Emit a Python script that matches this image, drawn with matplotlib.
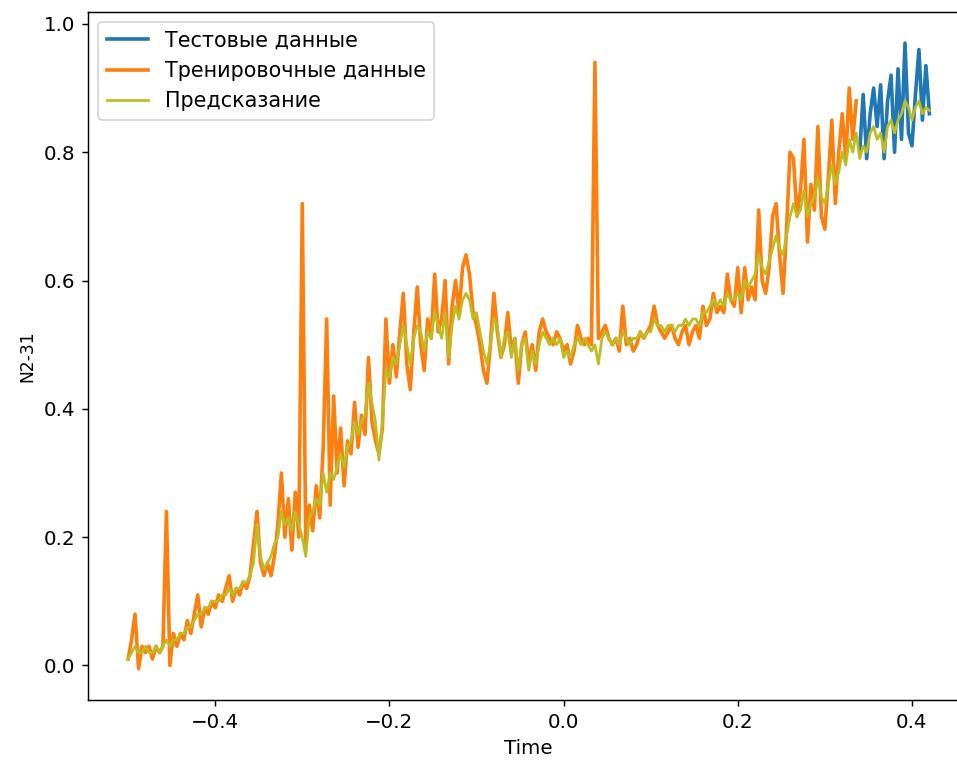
#!/bin/env python
"""Plot N2-31 series: training data, test data and model prediction
"""
import sys
import numpy as np
import matplotlib as mpl
import matplotlib.pyplot as plt

# constants

T_START = -0.5
T_STEP = 0.004

# training data, t = -0.500 ... 0.336
TRAIN_VALUES = [
    0.01, 0.04, 0.08, -0.005, 0.03, 0.02, 0.03, 0.01, 0.03, 0.02,
    0.03, 0.24, 0.00, 0.05, 0.03, 0.05, 0.04, 0.07, 0.05, 0.08,
    0.11, 0.06, 0.09, 0.08, 0.10, 0.09, 0.11, 0.10, 0.12, 0.14,
    0.10, 0.12, 0.11, 0.13, 0.12, 0.14, 0.19, 0.24, 0.16, 0.14,
    0.16, 0.14, 0.17, 0.22, 0.30, 0.20, 0.26, 0.18, 0.27, 0.20,
    0.72, 0.19, 0.25, 0.21, 0.28, 0.23, 0.34, 0.54, 0.25, 0.42,
    0.30, 0.37, 0.28, 0.35, 0.33, 0.41, 0.34, 0.39, 0.36, 0.48,
    0.38, 0.35, 0.33, 0.37, 0.54, 0.44, 0.50, 0.45, 0.52, 0.58,
    0.47, 0.43, 0.52, 0.59, 0.50, 0.46, 0.54, 0.51, 0.61, 0.52,
    0.54, 0.60, 0.47, 0.56, 0.60, 0.55, 0.62, 0.64, 0.61, 0.55,
    0.53, 0.50, 0.46, 0.44, 0.50, 0.58, 0.52, 0.48, 0.50, 0.55,
    0.49, 0.51, 0.44, 0.50, 0.52, 0.47, 0.50, 0.46, 0.52, 0.54,
    0.52, 0.51, 0.50, 0.52, 0.51, 0.49, 0.50, 0.47, 0.49, 0.53,
    0.51, 0.50, 0.51, 0.50, 0.94, 0.51, 0.52, 0.53, 0.51, 0.50,
    0.51, 0.49, 0.56, 0.50, 0.51, 0.49, 0.50, 0.52, 0.51, 0.52,
    0.53, 0.56, 0.53, 0.52, 0.51, 0.52, 0.53, 0.51, 0.50, 0.52,
    0.53, 0.50, 0.52, 0.53, 0.51, 0.56, 0.53, 0.54, 0.58, 0.55,
    0.56, 0.55, 0.61, 0.57, 0.56, 0.62, 0.55, 0.62, 0.57, 0.59,
    0.57, 0.71, 0.60, 0.58, 0.62, 0.70, 0.72, 0.64, 0.58, 0.68,
    0.80, 0.79, 0.70, 0.74, 0.82, 0.66, 0.75, 0.71, 0.84, 0.70,
    0.68, 0.76, 0.85, 0.72, 0.80, 0.86, 0.79, 0.90, 0.82, 0.88,
]

# test data, t = 0.340 ... 0.420
TEST_VALUES = [
    0.80, 0.89, 0.79, 0.86, 0.90, 0.84, 0.905, 0.79, 0.88, 0.92,
    0.80, 0.93, 0.82, 0.97, 0.83, 0.81, 0.89, 0.96, 0.85, 0.935,
    0.86,
]

# model prediction, t = -0.500 ... 0.420
PRED_VALUES = [
    0.01, 0.02, 0.03, 0.02, 0.02, 0.03, 0.02, 0.02, 0.03, 0.02,
    0.03, 0.04, 0.03, 0.04, 0.04, 0.05, 0.05, 0.06, 0.06, 0.07,
    0.08, 0.08, 0.09, 0.09, 0.10, 0.10, 0.10, 0.11, 0.11, 0.12,
    0.11, 0.12, 0.12, 0.13, 0.13, 0.14, 0.16, 0.22, 0.17, 0.15,
    0.16, 0.17, 0.19, 0.20, 0.24, 0.22, 0.23, 0.21, 0.24, 0.22,
    0.20, 0.17, 0.23, 0.24, 0.26, 0.25, 0.30, 0.27, 0.30, 0.29,
    0.31, 0.33, 0.31, 0.34, 0.35, 0.38, 0.36, 0.38, 0.39, 0.44,
    0.41, 0.38, 0.32, 0.38, 0.46, 0.45, 0.48, 0.47, 0.50, 0.53,
    0.50, 0.47, 0.51, 0.53, 0.52, 0.49, 0.52, 0.51, 0.55, 0.53,
    0.51, 0.55, 0.48, 0.53, 0.56, 0.54, 0.57, 0.58, 0.57, 0.54,
    0.55, 0.52, 0.49, 0.47, 0.50, 0.54, 0.53, 0.48, 0.51, 0.52,
    0.48, 0.51, 0.46, 0.50, 0.51, 0.46, 0.49, 0.47, 0.50, 0.52,
    0.51, 0.50, 0.51, 0.50, 0.51, 0.48, 0.49, 0.48, 0.50, 0.51,
    0.50, 0.51, 0.50, 0.49, 0.50, 0.47, 0.51, 0.52, 0.51, 0.50,
    0.51, 0.50, 0.52, 0.51, 0.50, 0.51, 0.51, 0.52, 0.51, 0.52,
    0.52, 0.54, 0.53, 0.53, 0.52, 0.53, 0.53, 0.52, 0.53, 0.53,
    0.54, 0.53, 0.54, 0.54, 0.53, 0.55, 0.55, 0.56, 0.57, 0.56,
    0.57, 0.56, 0.58, 0.57, 0.57, 0.58, 0.57, 0.60, 0.59, 0.60,
    0.61, 0.64, 0.62, 0.61, 0.63, 0.65, 0.67, 0.65, 0.64, 0.67,
    0.70, 0.72, 0.70, 0.71, 0.74, 0.70, 0.72, 0.73, 0.76, 0.73,
    0.72, 0.75, 0.78, 0.75, 0.77, 0.80, 0.78, 0.82, 0.80, 0.83,
    0.79, 0.81, 0.80, 0.83, 0.84, 0.82, 0.83, 0.80, 0.84, 0.85,
    0.83, 0.85, 0.86, 0.88, 0.87, 0.85, 0.87, 0.88, 0.86, 0.87,
    0.865,
]

# configuration
DPI = 130
mpl.rcParams['figure.figsize'] = (957 / DPI, 762 / DPI)
plt.rc('font', size=11)
plt.rc('legend', fontsize=11.5)


def plot_series():
    n_train = len(TRAIN_VALUES)
    n_test = len(TEST_VALUES)
    t_all = T_START + T_STEP * np.arange(n_train + n_test)
    t_train = t_all[:n_train]
    t_test = t_all[n_train:]

    fig = plt.figure(dpi=DPI)
    # the original picture is cropped on the right, so the axes run past it
    ax = fig.add_axes([0.092, 0.0814, 0.921, 0.903])
    ax.plot(t_test, TEST_VALUES, color='#1f77b4', lw=2.0,
            label='Тестовые данные')
    ax.plot(t_train, TRAIN_VALUES, color='#ff7f0e', lw=2.0,
            label='Тренировочные данные')
    ax.plot(t_all, PRED_VALUES, color='#bcbd22', lw=1.5,
            label='Предсказание')
    ax.set_xlabel('Time')
    ax.set_ylabel('N2-31', fontsize=9.5)
    ax.legend(loc='upper left')
    return fig, ax


def main():
    fig, ax = plot_series()
    fig.savefig('out.png', dpi=DPI)
    return 0


if __name__ == '__main__':
    status = main()
    sys.exit(status)
